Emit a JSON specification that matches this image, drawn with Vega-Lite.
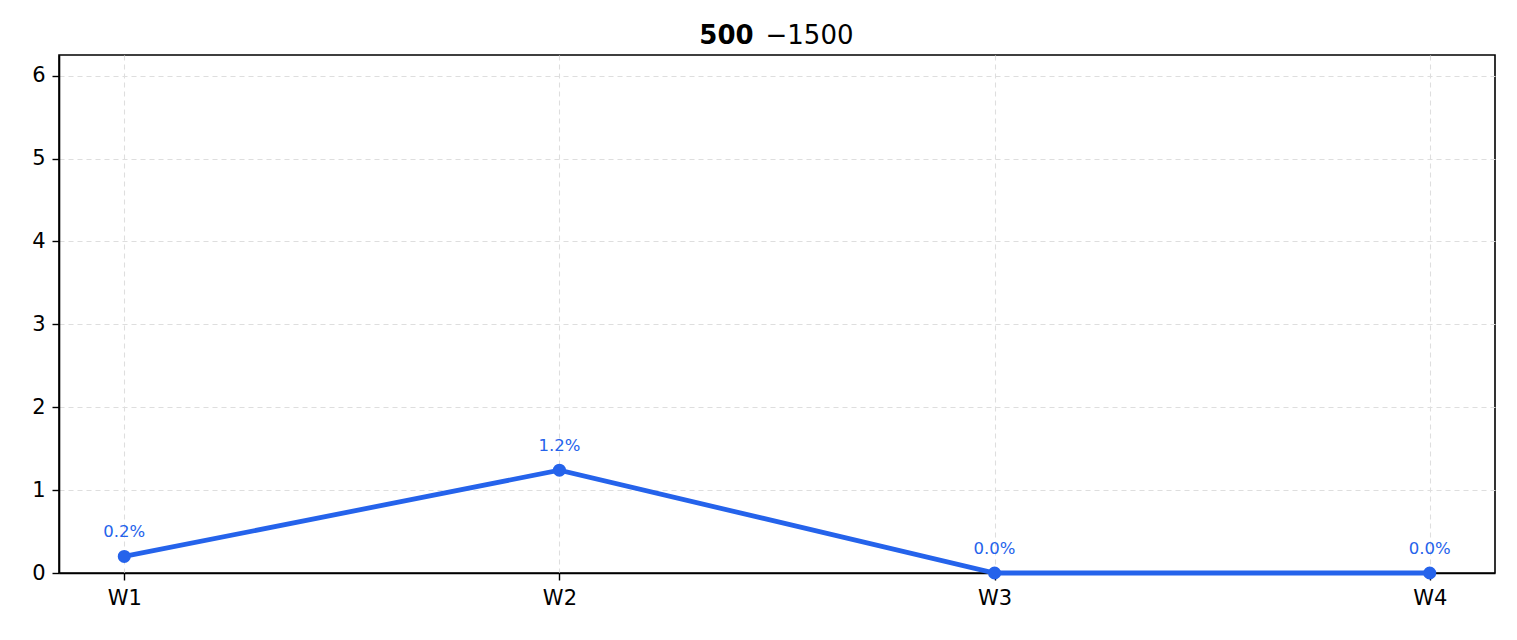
{
  "$schema": "https://vega.github.io/schema/vega-lite/v6.json",
  "autosize": "none",
  "padding": {"left": 59, "top": 55, "right": 22, "bottom": 67},
  "width": 1436,
  "height": 518,
  "background": "white",
  "config": {
    "font": "DejaVu Sans",
    "view": {"stroke": "black", "strokeWidth": 1.6},
    "axis": {
      "labelFont": "DejaVu Sans",
      "labelFontSize": 21,
      "labelColor": "black",
      "tickColor": "black",
      "tickSize": 7,
      "tickWidth": 1.4,
      "domainColor": "black",
      "domainWidth": 1.6,
      "gridColor": "#dedede",
      "gridDash": [5, 4],
      "gridWidth": 1.1
    }
  },
  "data": {
    "values": [
      {"week": "W1", "pct": 0.2, "label": "0.2%"},
      {"week": "W2", "pct": 1.24, "label": "1.2%"},
      {"week": "W3", "pct": 0.0, "label": "0.0%"},
      {"week": "W4", "pct": 0.0, "label": "0.0%"}
    ]
  },
  "encoding": {
    "x": {
      "field": "week",
      "type": "ordinal",
      "sort": null,
      "scale": {"type": "point", "padding": 0.15},
      "axis": {
        "labelAngle": 0,
        "labelPadding": 7,
        "grid": true,
        "title": "−1500",
        "titleFont": "DejaVu Sans",
        "titleFontSize": 26,
        "titleFontWeight": "normal",
        "titleColor": "black",
        "titleX": 750,
        "titleY": -530,
        "titleAlign": "center",
        "titleBaseline": "alphabetic"
      }
    },
    "y": {
      "field": "pct",
      "type": "quantitative",
      "scale": {"domain": [0, 6.25], "nice": false},
      "axis": {
        "values": [0, 1, 2, 3, 4, 5, 6],
        "labelPadding": 7,
        "grid": true,
        "title": "500",
        "titleFont": "DejaVu Sans",
        "titleFontSize": 26,
        "titleFontWeight": "bold",
        "titleColor": "black",
        "titleAngle": 0,
        "titleX": 667,
        "titleY": -12,
        "titleAlign": "center",
        "titleBaseline": "alphabetic"
      }
    }
  },
  "layer": [
    {
      "mark": {"type": "line", "color": "#2563eb", "strokeWidth": 4.8, "clip": false}
    },
    {
      "mark": {"type": "circle", "color": "#2563eb", "size": 170, "opacity": 1, "clip": false}
    },
    {
      "mark": {"type": "text", "color": "#2563eb", "fontSize": 16.5, "baseline": "alphabetic", "dy": -19, "font": "DejaVu Sans"},
      "encoding": {"text": {"field": "label"}}
    }
  ]
}
